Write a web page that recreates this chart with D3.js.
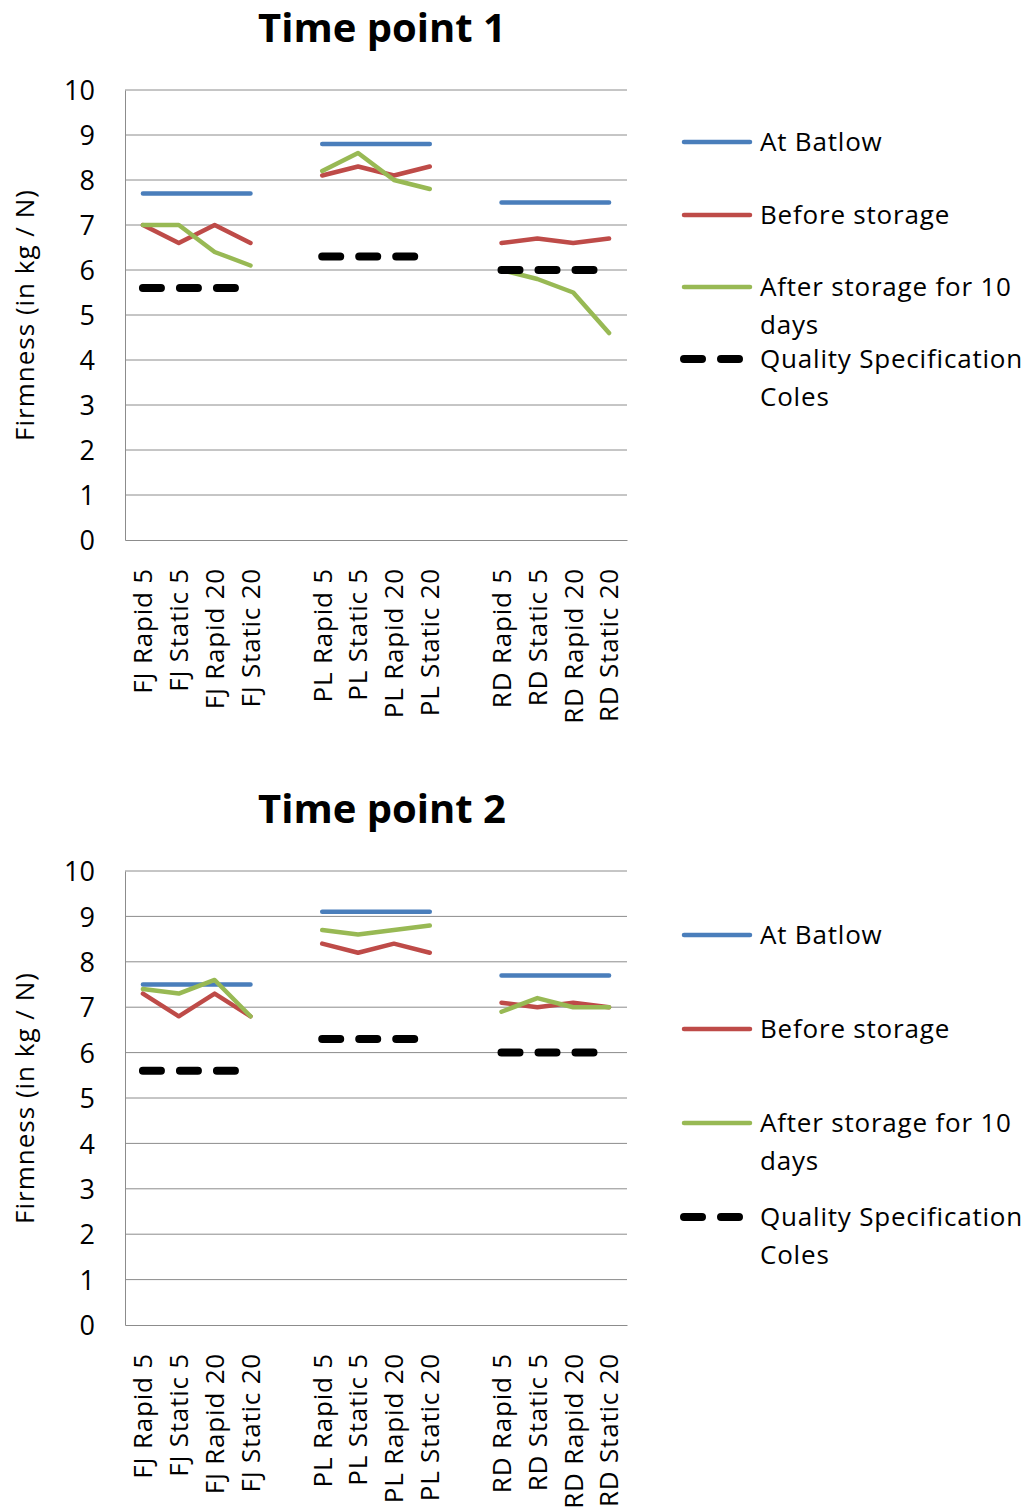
<!DOCTYPE html>
<html><head><meta charset="utf-8">
<script src="https://cdn.jsdelivr.net/npm/d3@7"></script>
<style>body{margin:0;background:#fff}svg{display:block}</style>
</head><body>
<script>
const categories = ["FJ Rapid 5","FJ Static 5","FJ Rapid 20","FJ Static 20","",
  "PL Rapid 5","PL Static 5","PL Rapid 20","PL Static 20","",
  "RD Rapid 5","RD Static 5","RD Rapid 20","RD Static 20"];
const yTicks = [0,1,2,3,4,5,6,7,8,9,10];
const seriesNames = ["At Batlow","Before storage","After storage for 10 days","Quality Specification Coles"];
const legendLines = [["At Batlow"],["Before storage"],["After storage for 10","days"],["Quality Specification","Coles"]];
const seriesColors = ["#4a7ebb","#be4b48","#98b954","#000000"];

// Time point 1
const t1Batlow = [7.7,7.7,7.7,7.7,null,8.8,8.8,8.8,8.8,null,7.5,7.5,7.5,7.5];
const t1Before = [7.0,6.6,7.0,6.6,null,8.1,8.3,8.1,8.3,null,6.6,6.7,6.6,6.7];
const t1After  = [7.0,7.0,6.4,6.1,null,8.2,8.6,8.0,7.8,null,6.0,5.8,5.5,4.6];
const t1Spec   = [5.6,5.6,5.6,5.6,null,6.3,6.3,6.3,6.3,null,6.0,6.0,6.0,6.0];
// Time point 2
const t2Batlow = [7.5,7.5,7.5,7.5,null,9.1,9.1,9.1,9.1,null,7.7,7.7,7.7,7.7];
const t2Before = [7.3,6.8,7.3,6.8,null,8.4,8.2,8.4,8.2,null,7.1,7.0,7.1,7.0];
const t2After  = [7.4,7.3,7.6,6.8,null,8.7,8.6,8.7,8.8,null,6.9,7.2,7.0,7.0];
const t2Spec   = [5.6,5.6,5.6,5.6,null,6.3,6.3,6.3,6.3,null,6.0,6.0,6.0,6.0];

const panels = [
  {title:"Time point 1", series:[t1Batlow,t1Before,t1After,t1Spec], top:90, bottom:540, titleY:42,
   legendY:[142,215,287,359]},
  {title:"Time point 2", series:[t2Batlow,t2Before,t2After,t2Spec], top:871, bottom:1325, titleY:823,
   legendY:[935,1029,1123,1217]}
];

const FONT = "'Open Sans', Lato, sans-serif";
const W = 1031, H = 1512;
const svg = d3.select("body").append("svg").attr("width",W).attr("height",H)
  .style("font-family",FONT);

const left = 125, right = 627;
const x = d3.scaleBand().domain(d3.range(categories.length)).range([left,right]).paddingInner(0).paddingOuter(0);
const cx = i => x(i) + x.bandwidth()/2;

panels.forEach(p => {
  const g = svg.append("g");
  const y = d3.scaleLinear().domain([0,10]).range([p.bottom,p.top]);

  g.append("text").attr("x",382).attr("y",p.titleY).attr("text-anchor","middle")
    .attr("font-size",40).attr("font-weight","bold").attr("fill","#000").text(p.title);

  // gridlines
  g.append("g").selectAll("line").data(yTicks.filter(t=>t>0)).join("line")
    .attr("x1",left).attr("x2",right).attr("y1",d=>y(d)).attr("y2",d=>y(d))
    .attr("stroke","#8c8c8c").attr("stroke-width",1);

  // y axis
  const ya = g.append("g").attr("transform",`translate(${left},0)`)
    .call(d3.axisLeft(y).tickValues(yTicks).tickSize(0).tickPadding(30));
  ya.select(".domain").attr("stroke","#8c8c8c");
  ya.selectAll("text").attr("font-size",27).attr("fill","#000")
    .attr("font-family",FONT).attr("dy","0.36em");

  // x axis
  const xa = g.append("g").attr("transform",`translate(0,${p.bottom})`)
    .call(d3.axisBottom(x).tickFormat(i=>categories[i]).tickSize(0));
  xa.select(".domain").attr("stroke","#8c8c8c");
  xa.selectAll("text").attr("font-size",26).attr("fill","#000")
    .attr("font-family",FONT).attr("letter-spacing",0.8)
    .attr("text-anchor","end").attr("transform","rotate(-90)")
    .attr("x",-28).attr("y",0).attr("dy","0.36em");

  // y title
  g.append("text").attr("transform",`translate(34,${(p.top+p.bottom)/2}) rotate(-90)`)
    .attr("text-anchor","middle").attr("font-size",26).attr("letter-spacing",1).attr("fill","#000")
    .text("Firmness (in kg / N)");

  // series
  p.series.forEach((s,k) => {
    const line = d3.line().defined(d=>d!=null).x((d,i)=>cx(i)).y(d=>y(d));
    const path = g.append("path").datum(s).attr("d",line).attr("fill","none")
      .attr("stroke",seriesColors[k]).attr("stroke-linecap","round").attr("stroke-linejoin","round");
    if (k===3) path.attr("stroke-width",8).attr("stroke-dasharray","18,19");
    else path.attr("stroke-width",4.5);
  });

  // legend
  legendLines.forEach((lines,k) => {
    const ly = p.legendY[k];
    const l = g.append("line").attr("x1",684).attr("x2",750).attr("y1",ly).attr("y2",ly)
      .attr("stroke",seriesColors[k]).attr("stroke-linecap","round");
    if (k===3) l.attr("stroke-width",8).attr("stroke-dasharray","18,19").attr("x1",684).attr("x2",740);
    else l.attr("stroke-width",4.5);
    lines.forEach((t,j) => {
      g.append("text").attr("x",760).attr("y",ly + j*38).attr("dy","0.36em")
        .attr("font-size",26).attr("letter-spacing",0.8).attr("fill","#000").text(t);
    });
  });
});
</script>
</body></html>
